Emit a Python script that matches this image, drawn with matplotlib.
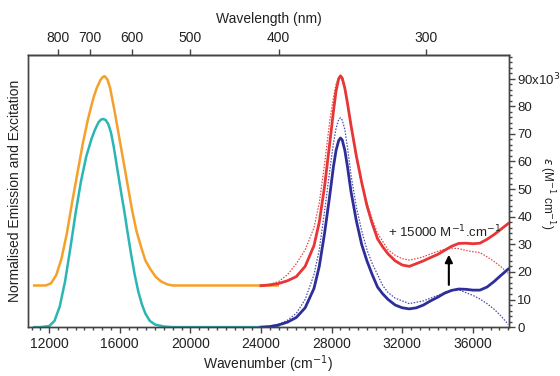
import matplotlib.pyplot as plt
from matplotlib.ticker import MultipleLocator, FixedLocator, FuncFormatter

plt.rcParams['font.family'] = ['Liberation Sans', 'DejaVu Sans']

# normalised emission / excitation (left axis)
wn_em = [11150, 11500, 12000, 12300, 12600, 12900, 13200, 13500, 13800, 14100,
         14400, 14600, 14800, 14950, 15070, 15200, 15350, 15500, 15650, 15850,
         16050, 16250, 16450, 16650, 16850, 17050, 17250, 17450, 17700, 18000,
         18500, 19000, 20000, 22000, 24000, 24950]
emission = [0, 0, 0.005, 0.03, 0.1, 0.22, 0.38, 0.55, 0.7, 0.82,
            0.905, 0.95, 0.985, 0.998, 1.0, 0.995, 0.975, 0.935, 0.87, 0.765,
            0.66, 0.56, 0.45, 0.345, 0.25, 0.17, 0.11, 0.065, 0.03, 0.012,
            0.003, 0, 0, 0, 0, 0]

wn_ex = [11150, 11800, 12100, 12400, 12700, 13000, 13300, 13600, 13900, 14200,
         14500, 14700, 14900, 15050, 15150, 15300, 15450, 15700, 15950, 16200,
         16450, 16700, 16950, 17200, 17450, 17750, 18050, 18350, 18700, 19000,
         22000, 24950]
excitation = [0.2, 0.2, 0.21, 0.25, 0.33, 0.45, 0.6, 0.74, 0.88, 1.0,
              1.1, 1.15, 1.187, 1.203, 1.205, 1.19, 1.15, 1.04, 0.92, 0.8,
              0.68, 0.56, 0.46, 0.387, 0.32, 0.276, 0.24, 0.219, 0.205, 0.2,
              0.2, 0.2]

# absorption (right axis, x10^3 M-1 cm-1)
wn_abs = [24000, 24500, 25000, 25500, 26000, 26500, 27000, 27300, 27600, 27900,
          28100, 28250, 28400, 28500, 28600, 28750, 28900, 29100, 29400, 29700,
          30000, 30300, 30600, 30900, 31200, 31600, 32000, 32400, 32800, 33200,
          33600, 34000, 34400, 34800, 35200, 35600, 36000, 36400, 36800, 37200,
          37600, 38000]
blue_solid = [0, 0.2, 0.8, 1.8, 3.5, 7, 14, 22, 34, 48,
              58, 64, 67.6, 68.5, 67.8, 64, 58, 49, 38.5, 30,
              24, 19, 14.5, 12, 10, 8, 7, 6.6, 7, 8,
              9.5, 10.8, 12.3, 13.3, 13.8, 13.7, 13.4, 13.4, 14.5, 16.5,
              18.8, 21]
blue_dot = [0, 0.3, 1, 2.5, 5, 10, 19, 28, 42, 57,
            66.5, 72, 75.2, 75.8, 75, 71.5, 65, 55, 43.5, 35,
            28, 23, 19, 15, 12.5, 10.5, 9.5, 8.5, 9, 9.5,
            10.5, 11.5, 12.5, 13.5, 13.5, 12.5, 11.5, 10.2, 8.5, 6.5,
            4, 1]
red_solid = [15, 15.3, 15.8, 16.8, 18.3, 22, 29.5, 38, 51, 67,
             78, 85.5, 90, 91, 90.2, 86.5, 81, 73, 62, 52.5,
             44, 37.5, 32, 29, 26.5, 24, 22.5, 22, 23, 24,
             25.2, 26.3, 27.8, 29.3, 30.3, 30.4, 30.2, 30.4, 31.8, 33.5,
             35.5, 37.5]
red_dot = [15, 15.5, 16.5, 19, 23, 28, 36, 45, 59, 75,
           83, 88, 90.2, 90.5, 89.5, 86, 80.5, 72.5, 61.5, 52,
           45, 39, 34, 31, 28, 26, 24.8, 24.3, 24.8, 25.5,
           26.5, 27.4, 28.2, 28.6, 28.4, 27.8, 27.3, 27, 25.5, 23.8,
           21.8, 19.5]

wl_ticks = [800, 700, 600, 500, 400, 300]

fig = plt.figure(figsize=(5.6, 3.76), dpi=100)
ax = fig.add_axes([0.05, 0.13, 0.859, 0.724])
ax2 = ax.twinx()

grey = '#444444'
txt = '#222222'
ax.plot(wn_ex, excitation, color='#F5A02A', lw=1.8)
ax.plot(wn_em, emission, color='#2BB5B5', lw=1.8)
ax.set_ylim(0, 1.308)
ax.set_xlim(10800, 38050)
ax.set_yticks([])

dots = (0, (1.2, 1.2))
ax2.plot(wn_abs, [v * 1000 for v in red_dot], color='#E84545', lw=0.9, ls=dots)
ax2.plot(wn_abs, [v * 1000 for v in blue_dot], color='#4A4AB0', lw=0.9, ls=dots)
ax2.plot(wn_abs, [v * 1000 for v in red_solid], color='#E83535', lw=2)
ax2.plot(wn_abs, [v * 1000 for v in blue_solid], color='#2E2E9A', lw=2)
ax2.set_ylim(0, 98600)
ax2.yaxis.set_major_locator(MultipleLocator(10000))
ax2.yaxis.set_minor_locator(MultipleLocator(2000))
ax2.yaxis.set_major_formatter(FuncFormatter(
    lambda v, p: '90x10$^3$' if round(v) == 90000 else '%d' % round(v / 1000)))

# right-hand axis title sits between the tick labels and the figure edge
fig.text(0.977, 0.487, '$\\epsilon$ (M$^{-1}$ cm$^{-1}$)', rotation=270,
         ha='center', va='center', fontsize=8.5, color=txt)

ax2.annotate('', xy=(34640, 26200), xytext=(34640, 15300),
             arrowprops=dict(arrowstyle='-|>', color='black', lw=1.5,
                             mutation_scale=11, shrinkA=0, shrinkB=0))
ax2.text(34400, 34500, '+ 15000 M$^{-1}$.cm$^{-1}$', ha='center', va='center',
         fontsize=9.5, color=txt)

ax.xaxis.set_major_locator(MultipleLocator(4000))
ax.xaxis.set_minor_locator(MultipleLocator(500))
ax.set_xlabel('Wavenumber (cm$^{-1}$)', fontsize=10, color=txt, labelpad=2)
ax.set_ylabel('Normalised Emission and Excitation', fontsize=10, color=txt,
              labelpad=4)

top = ax.secondary_xaxis('top', functions=(lambda x: 1e7 / x, lambda x: 1e7 / x))
top.xaxis.set_major_locator(FixedLocator(wl_ticks))
top.xaxis.set_minor_locator(FixedLocator([]))
top.set_xlabel('Wavelength (nm)', fontsize=10, color=txt, labelpad=6)

for a in (ax, ax2, top):
    a.tick_params(which='major', length=4.5, width=1, colors=grey, labelsize=10,
                  labelcolor=txt, pad=2.5)
    a.tick_params(which='minor', length=2.5, width=1, colors=grey)
    for sp in a.spines.values():
        sp.set_color(grey)
        sp.set_linewidth(1)
ax2.tick_params(axis='y', which='major', labelsize=9.5, pad=1.5)

fig.savefig('out.png', dpi=100)
